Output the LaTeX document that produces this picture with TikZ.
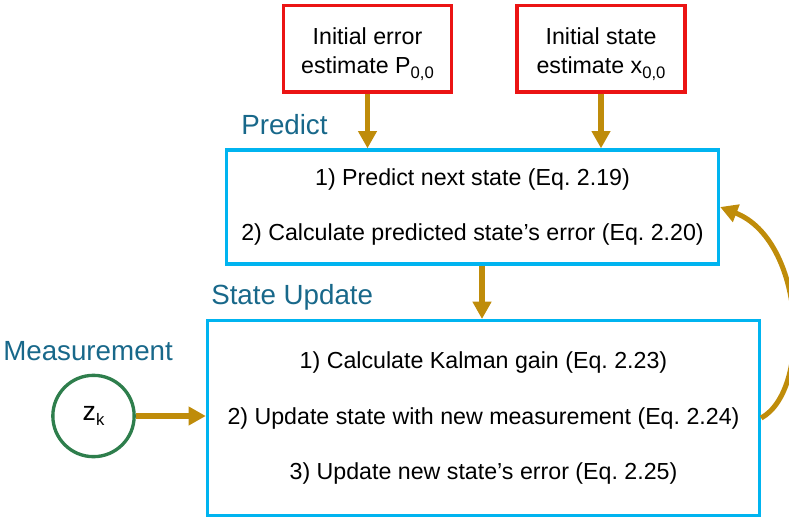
\documentclass[tikz,border=0pt]{standalone}
\usepackage{fontspec}
\setmainfont{Liberation Sans}
\frenchspacing
\usetikzlibrary{arrows.meta}
\definecolor{boxred}{RGB}{235,20,20}
\definecolor{boxblue}{RGB}{0,180,240}
\definecolor{flowgold}{RGB}{191,140,10}
\definecolor{labelteal}{RGB}{24,104,138}
\definecolor{measgreen}{RGB}{46,126,76}
\newcommand{\lowidx}[1]{\raisebox{-0.4ex}{\fontsize{12.5}{12.5}\selectfont #1}}
\newcommand{\twolines}[2]{\raisebox{-8.5pt}[0pt][0pt]{\parbox{120pt}{\centering #1\\#2}}}
\tikzset{
  initbox/.style={draw=boxred, line width=2.5pt, minimum width=126pt, minimum height=65pt,
    align=center, font=\fontsize{17.4}{21.5}\selectfont, inner sep=0pt},
  stagebox/.style={draw=boxblue, line width=2.5pt, align=center, inner sep=0pt},
  stagetext/.style={font=\fontsize{17.4}{41.5}\selectfont},
  steplabel/.style={text=labelteal, font=\fontsize{20.8}{24}\selectfont, anchor=west, inner sep=0pt},
  flow/.style={draw=flowgold, line width=3.8pt, -{Triangle[length=13pt,width=13.5pt]}},
}
\begin{document}
\begin{tikzpicture}[x=0.75pt,y=-0.75pt]
\useasboundingbox (0,0) rectangle (789,518);

% initial condition boxes
\node[initbox] (perr) at (367.5,48.5) {\twolines{Initial error}{estimate P\lowidx{0,0}}};
\node[initbox] (xini) at (601,48.5) {\twolines{Initial state}{estimate x\lowidx{0,0}}};

% predict stage
\node[stagebox, stagetext, minimum width=369pt, minimum height=85.5pt] (pred) at (472.5,207)
  {1) Predict next state (Eq. 2.19)\\2) Calculate predicted state’s error (Eq. 2.20)};
\node[steplabel] (predlbl) at (241,125) {Predict};

% update stage
\node[stagebox, stagetext, minimum width=414pt, minimum height=146pt] (upd) at (483.5,418)
  {1) Calculate Kalman gain (Eq. 2.23)\\2) Update state with new measurement (Eq. 2.24)\\3) Update new state’s error (Eq. 2.25)};
\node[steplabel] (updlbl) at (211,297) {State Update};

% measurement input
\node[steplabel] (measlbl) at (3,351) {Measurement};
\node[draw=measgreen, line width=2.5pt, circle, minimum size=61pt, inner sep=0pt,
  font=\fontsize{20}{22}\selectfont] (zk) at (93.5,416) {z\lowidx{k}};

% connectors
\draw[flow] (perr.south) -- (perr.south |- pred.north);
\draw[flow] (xini.south) -- (xini.south |- pred.north);
\draw[flow] (pred.south -| 482,0) -- (upd.north -| 482,0);
\draw[flow] (zk.east) -- (zk.east -| upd.west);
\draw[flow] (upd.east) .. controls (812,390) and (805,240) .. (pred.east);
\end{tikzpicture}
\end{document}
